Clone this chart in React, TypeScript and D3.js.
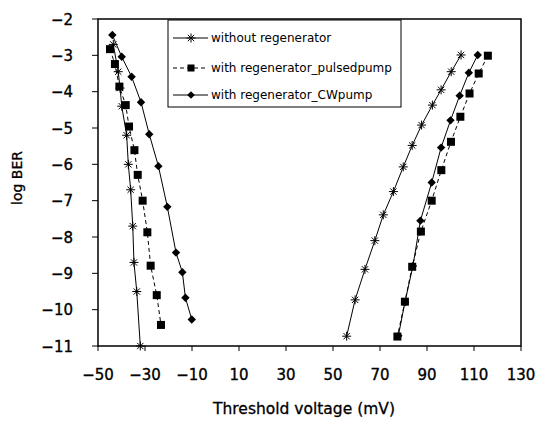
import React from 'react';
import * as d3 from 'd3';

// threshold voltage (mV) and log BER, left and right branch of each curve
const withoutLeftX = [-43.5, -41.4, -40.6, -39.9, -37.8, -37.1, -36.1, -35.2, -34.7, -33.5, -32.0];
const withoutLeftY = [-2.7, -3.45, -3.9, -4.4, -5.2, -6.0, -6.7, -7.7, -8.7, -9.5, -11.0];
const withoutRightX = [104.5, 100.3, 96.0, 92.3, 87.7, 83.7, 79.9, 75.7, 71.4, 67.8, 63.6, 59.4, 55.8];
const withoutRightY = [-2.99, -3.45, -3.95, -4.37, -4.92, -5.48, -6.07, -6.75, -7.39, -8.1, -8.89, -9.73, -10.73];

const pulsedLeftX = [-44.9, -42.8, -40.9, -38.2, -36.8, -34.5, -33.1, -31.0, -29.0, -27.6, -25.0, -23.2];
const pulsedLeftY = [-2.83, -3.24, -3.86, -4.37, -4.96, -5.61, -6.29, -7.0, -7.87, -8.79, -9.6, -10.42];
const pulsedRightX = [115.9, 112.0, 108.1, 104.2, 100.2, 96.1, 92.0, 87.4, 83.7, 80.6, 77.4];
const pulsedRightY = [-3.01, -3.5, -4.05, -4.69, -5.38, -6.16, -7.0, -7.85, -8.82, -9.78, -10.74];

const cwLeftX = [-43.9, -39.9, -35.7, -31.7, -28.2, -24.3, -20.5, -16.8, -14.1, -12.8, -10.1];
const cwLeftY = [-2.44, -3.04, -3.59, -4.29, -5.17, -6.05, -7.17, -8.43, -8.97, -9.67, -10.27];
const cwRightX = [111.6, 107.8, 103.9, 100.0, 96.0, 92.0, 87.2, 84.0, 80.6, 77.8];
const cwRightY = [-2.99, -3.48, -4.11, -4.79, -5.54, -6.5, -7.55, -8.8, -9.8, -10.72];

const xTicks = [-50, -30, -10, 10, 30, 50, 70, 90, 110, 130];
const yTicks = [-2, -3, -4, -5, -6, -7, -8, -9, -10, -11];
const legendLabels = ['without regenerator', 'with regenerator_pulsedpump', 'with regenerator_CWpump'];

const W = 540;
const H = 421;
const left = 98, right = 521, top = 19, bottom = 346;
const FONT = 'DejaVu Sans, sans-serif';

type Pt = [number, number];
const zip = (xs: number[], ys: number[]): Pt[] => xs.map((v, i) => [v, ys[i]]);

const Asterisk = ({ cx, cy, r = 4.5 }: { cx: number; cy: number; r?: number }) => (
  <g stroke="#000" strokeWidth={1}>
    <line x1={cx - r} y1={cy} x2={cx + r} y2={cy} />
    <line x1={cx - r * 0.7} y1={cy - r * 0.7} x2={cx + r * 0.7} y2={cy + r * 0.7} />
    <line x1={cx - r * 0.7} y1={cy + r * 0.7} x2={cx + r * 0.7} y2={cy - r * 0.7} />
    <line x1={cx} y1={cy - r} x2={cx} y2={cy + r} />
  </g>
);

const Square = ({ cx, cy, s = 8 }: { cx: number; cy: number; s?: number }) => (
  <rect x={cx - s / 2} y={cy - s / 2} width={s} height={s} fill="#000" />
);

const Diamond = ({ cx, cy, r = 4.2 }: { cx: number; cy: number; r?: number }) => (
  <path d={`M${cx},${cy - r}L${cx + r},${cy}L${cx},${cy + r}L${cx - r},${cy}Z`} fill="#000" />
);

export default function App() {
  const x = d3.scaleLinear().domain([-50, 130]).range([left, right]);
  const y = d3.scaleLinear().domain([-2, -11]).range([top, bottom]);
  const line = d3.line<Pt>().x(d => x(d[0])).y(d => y(d[1]));

  const withoutSets = [zip(withoutLeftX, withoutLeftY), zip(withoutRightX, withoutRightY)];
  const pulsedSets = [zip(pulsedLeftX, pulsedLeftY), zip(pulsedRightX, pulsedRightY)];
  const cwSets = [zip(cwLeftX, cwLeftY), zip(cwRightX, cwRightY)];

  const legX = 168, legY = 20, legW = 233, legH = 87;
  const rowY = [38, 68, 95];

  return (
    <svg width={W} height={H} style={{ position: 'absolute', left: 0, top: 0, background: '#fff' }}>
      <rect x={0} y={0} width={W} height={H} fill="#fff" />

      {/* curves */}
      {withoutSets.map((s, i) => (
        <path key={'wl' + i} d={line(s) || ''} fill="none" stroke="#000" strokeWidth={1} />
      ))}
      {pulsedSets.map((s, i) => (
        <path key={'pl' + i} d={line(s) || ''} fill="none" stroke="#000" strokeWidth={1} strokeDasharray="4,3" />
      ))}
      {cwSets.map((s, i) => (
        <path key={'cl' + i} d={line(s) || ''} fill="none" stroke="#000" strokeWidth={1} />
      ))}
      {withoutSets.flat().map((d, i) => <Asterisk key={'wa' + i} cx={x(d[0])} cy={y(d[1])} />)}
      {pulsedSets.flat().map((d, i) => <Square key={'ps' + i} cx={x(d[0])} cy={y(d[1])} />)}
      {cwSets.flat().map((d, i) => <Diamond key={'cd' + i} cx={x(d[0])} cy={y(d[1])} />)}

      {/* frame */}
      <rect x={left} y={top} width={right - left} height={bottom - top} fill="none" stroke="#000" strokeWidth={1.5} />

      {/* x axis */}
      {xTicks.map(t => (
        <g key={'xt' + t}>
          <line x1={x(t)} x2={x(t)} y1={bottom} y2={bottom + 5} stroke="#000" strokeWidth={1} />
          <text x={x(t)} y={380} textAnchor="middle" fontFamily={FONT} fontSize={15} fill="#000"
            stroke="#000" strokeWidth={0.35}>
            {t < 0 ? '\u2212' + Math.abs(t) : String(t)}
          </text>
        </g>
      ))}
      <text x={304} y={414} textAnchor="middle" fontFamily={FONT} fontSize={15.5} fill="#000"
        stroke="#000" strokeWidth={0.3}>
        Threshold voltage (mV)
      </text>

      {/* y axis */}
      {yTicks.map(t => (
        <g key={'yt' + t}>
          <line x1={left - 6} x2={left} y1={y(t)} y2={y(t)} stroke="#000" strokeWidth={1} />
          <text x={73} y={y(t) + 5.5} textAnchor="end" fontFamily={FONT} fontSize={15} fill="#000"
            stroke="#000" strokeWidth={0.35}>
            {'\u2212' + Math.abs(t)}
          </text>
        </g>
      ))}
      <text transform="translate(22,178) rotate(-90)" textAnchor="middle" fontFamily={FONT} fontSize={14} fill="#000"
        stroke="#000" strokeWidth={0.3}>
        log BER
      </text>

      {/* legend */}
      <rect x={legX} y={legY} width={legW} height={legH} fill="#fff" stroke="#000" strokeWidth={1} />
      {legendLabels.map((lab, i) => (
        <g key={'lg' + i}>
          <line x1={173} x2={208} y1={rowY[i]} y2={rowY[i]} stroke="#000" strokeWidth={1}
            strokeDasharray={i === 1 ? '4,3' : undefined} />
          {i === 0 && <Asterisk cx={191} cy={rowY[i]} />}
          {i === 1 && <Square cx={191} cy={rowY[i]} s={7} />}
          {i === 2 && <Diamond cx={191} cy={rowY[i]} r={3.8} />}
          <text x={211} y={rowY[i] + 4} fontFamily={FONT} fontSize={12} fill="#000">{lab}</text>
        </g>
      ))}
    </svg>
  );
}
